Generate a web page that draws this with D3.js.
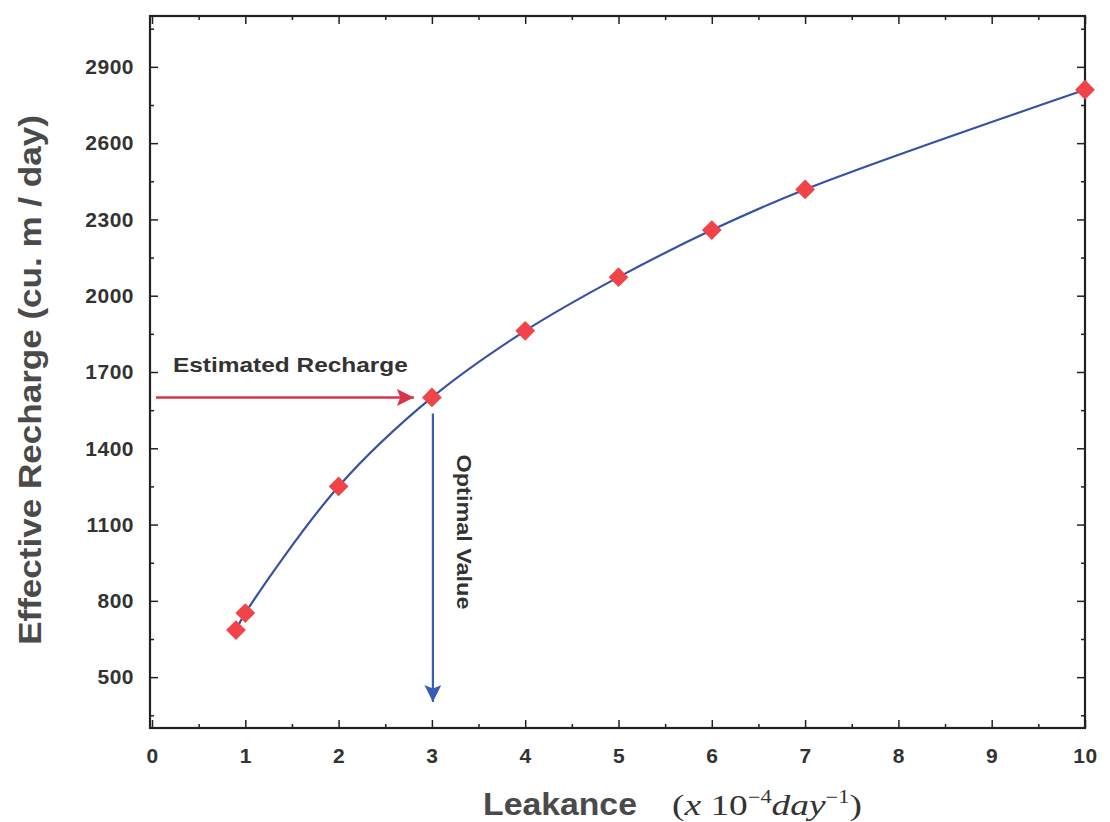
<!DOCTYPE html>
<html>
<head>
<meta charset="utf-8">
<script src="https://cdn.jsdelivr.net/npm/d3@7"></script>
<style>
  html, body { margin: 0; padding: 0; background: #fff; }
  svg { display: block; }
</style>
</head>
<body>
<svg id="chart" width="1110" height="822"></svg>
<script>
// Leakance (x 10^-4 day^-1) against effective recharge (cu. m / day)
const leakance = [0.9, 1, 2, 3, 4, 5, 6, 7, 10];
const recharge = [685, 752, 1250, 1600, 1862, 2073, 2258, 2418, 2810];

const xMajorTicks = [0, 1, 2, 3, 4, 5, 6, 7, 8, 9, 10];
const yMajorTicks = [500, 800, 1100, 1400, 1700, 2000, 2300, 2600, 2900];

const optimalLeakance = 3;
const estimatedRecharge = 1600;

const svg = d3.select("#chart");
const plotLeft = 150, plotRight = 1085, plotTop = 16, plotBottom = 728;

const x = d3.scaleLinear().domain([0, 10]).range([plotLeft + 2, plotRight]);
const y = d3.scaleLinear().domain([300, 3100]).range([plotBottom, plotTop]);

const axisColor = "#222";
const labelColor = "#333";
const sans = "Liberation Sans, Arial, Helvetica, sans-serif";

// Stretch a text horizontally so it spans the given width
function fitWidth(sel, width) {
  const w = sel.node().getBBox().width;
  const t = sel.attr("transform") || "";
  sel.attr("transform", `${t} scale(${width / w},1)`);
}

// Frame
svg.append("rect")
  .attr("x", plotLeft).attr("y", plotTop)
  .attr("width", plotRight - plotLeft).attr("height", plotBottom - plotTop)
  .attr("fill", "none").attr("stroke", axisColor).attr("stroke-width", 2.2);

const xMinor = d3.range(0.5, 10, 1);
const yMinor = d3.range(350, 3100, 300);

function styleAxis(g) {
  g.select(".domain").remove();
  g.selectAll("line").attr("stroke", axisColor).attr("stroke-width", 1.5);
  g.selectAll("text")
    .attr("fill", labelColor)
    .attr("font-family", sans)
    .attr("font-weight", "bold")
    .attr("font-size", 21)
    .attr("letter-spacing", 0.5);
}

// Bottom axis: major ticks with labels, pointing inward
svg.append("g").attr("transform", `translate(0,${plotBottom})`)
  .call(d3.axisBottom(x).tickValues(xMajorTicks).tickFormat(d3.format("d"))
    .tickSizeInner(-8).tickSizeOuter(0).tickPadding(20))
  .call(styleAxis);
svg.append("g").attr("transform", `translate(0,${plotBottom})`)
  .call(d3.axisBottom(x).tickValues(xMinor).tickFormat("").tickSizeInner(-4).tickSizeOuter(0))
  .call(styleAxis);

// Top axis ticks
svg.append("g").attr("transform", `translate(0,${plotTop})`)
  .call(d3.axisTop(x).tickValues(xMajorTicks).tickFormat("").tickSizeInner(-8).tickSizeOuter(0))
  .call(styleAxis);
svg.append("g").attr("transform", `translate(0,${plotTop})`)
  .call(d3.axisTop(x).tickValues(xMinor).tickFormat("").tickSizeInner(-4).tickSizeOuter(0))
  .call(styleAxis);

// Left axis
svg.append("g").attr("transform", `translate(${plotLeft},0)`)
  .call(d3.axisLeft(y).tickValues(yMajorTicks).tickFormat(d3.format("d"))
    .tickSizeInner(-8).tickSizeOuter(0).tickPadding(16))
  .call(styleAxis);
svg.append("g").attr("transform", `translate(${plotLeft},0)`)
  .call(d3.axisLeft(y).tickValues(yMinor).tickFormat("").tickSizeInner(-4).tickSizeOuter(0))
  .call(styleAxis);

// Right axis ticks
svg.append("g").attr("transform", `translate(${plotRight},0)`)
  .call(d3.axisRight(y).tickValues(yMajorTicks).tickFormat("").tickSizeInner(-8).tickSizeOuter(0))
  .call(styleAxis);
svg.append("g").attr("transform", `translate(${plotRight},0)`)
  .call(d3.axisRight(y).tickValues(yMinor).tickFormat("").tickSizeInner(-4).tickSizeOuter(0))
  .call(styleAxis);

// Arrowhead markers
const defs = svg.append("defs");
defs.append("marker").attr("id", "headRed")
  .attr("viewBox", "0 0 10 10").attr("refX", 10).attr("refY", 5)
  .attr("markerUnits", "userSpaceOnUse")
  .attr("markerWidth", 29).attr("markerHeight", 17).attr("orient", "auto")
  .append("path").attr("d", "M0,0 L10,5 L0,10 L2,5 Z").attr("fill", "#d9344a");
defs.append("marker").attr("id", "headBlue")
  .attr("viewBox", "0 0 10 10").attr("refX", 10).attr("refY", 5)
  .attr("markerUnits", "userSpaceOnUse")
  .attr("markerWidth", 29).attr("markerHeight", 17).attr("orient", "auto")
  .append("path").attr("d", "M0,0 L10,5 L0,10 L2,5 Z").attr("fill", "#3a5cb8");

// Curve through the points
const pts = leakance.map((d, i) => [d, recharge[i]]);
const line = d3.line().x(d => x(d[0])).y(d => y(d[1])).curve(d3.curveCatmullRom.alpha(0.5));
svg.append("path").datum(pts)
  .attr("d", line)
  .attr("fill", "none").attr("stroke", "#3552a8").attr("stroke-width", 2.2);

// Estimated recharge arrow (horizontal, red)
svg.append("line")
  .attr("x1", plotLeft + 6).attr("y1", y(estimatedRecharge))
  .attr("x2", x(optimalLeakance) - 18).attr("y2", y(estimatedRecharge))
  .attr("stroke", "#d9344a").attr("stroke-width", 2.5)
  .attr("marker-end", "url(#headRed)");

// Optimal value arrow (vertical, blue)
svg.append("line")
  .attr("x1", x(optimalLeakance) + 1).attr("y1", y(estimatedRecharge) + 16)
  .attr("x2", x(optimalLeakance) + 1).attr("y2", plotBottom - 26)
  .attr("stroke", "#3a5cb8").attr("stroke-width", 2.2)
  .attr("marker-end", "url(#headBlue)");

// Diamond markers
svg.append("g").selectAll("path").data(pts).join("path")
  .attr("transform", d => `translate(${x(d[0])},${y(d[1])}) rotate(45)`)
  .attr("d", "M-7,-7 H7 V7 H-7 Z")
  .attr("fill", "#f04448");

// Annotations
const est = svg.append("text")
  .attr("transform", "translate(173,372)")
  .attr("font-family", sans)
  .attr("font-weight", "bold").attr("font-size", 21)
  .attr("fill", labelColor)
  .text("Estimated Recharge");
fitWidth(est, 235);

const opt = svg.append("text")
  .attr("transform", "translate(457,532) rotate(90)")
  .attr("text-anchor", "middle")
  .attr("font-family", sans)
  .attr("font-weight", "bold").attr("font-size", 20)
  .attr("fill", labelColor)
  .text("Optimal Value");
fitWidth(opt, 155);

// Axis titles
const yTitle = svg.append("text")
  .attr("transform", "translate(41,380) rotate(-90)")
  .attr("text-anchor", "middle")
  .attr("font-family", sans)
  .attr("font-weight", "bold").attr("font-size", 32)
  .attr("fill", "#4a4a4a")
  .text("Effective Recharge (cu. m / day)");
fitWidth(yTitle, 530);

const xTitle = svg.append("text")
  .attr("transform", "translate(483,815)")
  .attr("fill", "#4a4a4a")
  .attr("font-family", sans)
  .attr("font-weight", "bold").attr("font-size", 31)
  .text("Leakance");
fitWidth(xTitle, 154);

const unit = svg.append("text")
  .attr("transform", "translate(672,815)")
  .attr("font-family", "Liberation Serif, Times New Roman, serif")
  .attr("font-size", 30).attr("fill", "#333");
unit.append("tspan").text("(");
unit.append("tspan").attr("font-style", "italic").text("x");
unit.append("tspan").text(" 10");
unit.append("tspan").attr("font-size", 18).attr("dy", -12).text("−4");
unit.append("tspan").attr("font-style", "italic").attr("dy", 12).text("day");
unit.append("tspan").attr("font-size", 18).attr("dy", -12).text("−1");
unit.append("tspan").attr("dy", 12).text(")");
fitWidth(unit, 190);
</script>
</body>
</html>
